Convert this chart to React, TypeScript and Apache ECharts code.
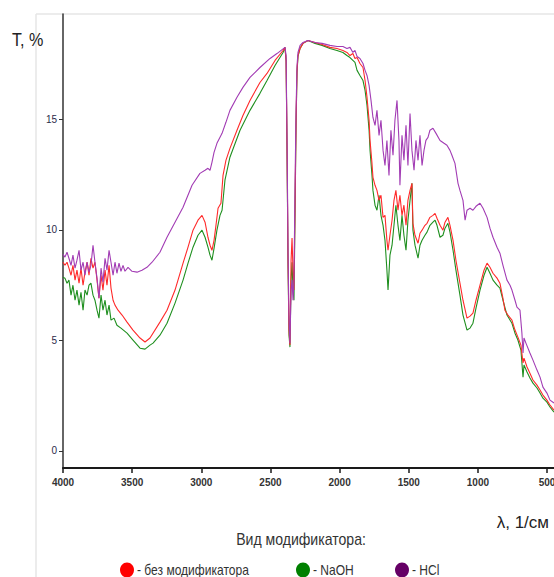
import React, { useEffect, useRef } from "react";
import * as echarts from "echarts";

// Wavenumber (1/см) vs transmittance T, %
const xTicks = [4000, 3500, 3000, 2500, 2000, 1500, 1000, 500];
const yTicks = [0, 5, 10, 15];

const seriesNames = ["без модификатора", "NaOH", "HCl"];
const lineColors = ["#ff2a2a", "#1f8f1f", "#a23cb4"];
const legendColors = ["#ff0000", "#008000", "#660066"];

const noModifier: [number, number][] = [
  [4000, 8.54], [3986, 8.40], [3971, 8.54], [3957, 8.27], [3942, 7.95], [3928, 8.40], [3913, 7.73], [3899, 8.18],
  [3884, 7.59], [3870, 8.27], [3855, 7.50], [3841, 8.09], [3826, 8.54], [3812, 7.95], [3798, 8.72], [3783, 8.27],
  [3769, 8.54], [3754, 7.73], [3740, 6.91], [3725, 7.95], [3711, 7.28], [3696, 8.18], [3682, 7.50], [3667, 8.40],
  [3653, 7.37], [3638, 6.82], [3624, 6.60], [3602, 6.37], [3573, 6.15], [3537, 5.83], [3494, 5.47], [3443, 5.11],
  [3407, 4.93], [3371, 5.11], [3299, 5.83], [3248, 6.37], [3190, 7.28], [3132, 8.50], [3096, 9.22], [3060, 9.99],
  [3024, 10.44], [2995, 10.66], [2973, 10.35], [2952, 9.67], [2937, 9.31], [2923, 9.08], [2908, 9.53], [2894, 10.21],
  [2879, 10.98], [2858, 11.21], [2843, 12.47], [2822, 13.15], [2793, 13.69], [2742, 14.51], [2699, 15.18], [2648, 15.86],
  [2576, 16.67], [2525, 17.08], [2467, 17.67], [2409, 18.12], [2395, 18.26], [2387, 17.67], [2380, 13.60], [2373, 8.63],
  [2366, 5.47], [2359, 4.79], [2351, 8.63], [2344, 9.63], [2337, 8.18], [2330, 7.28], [2322, 11.34], [2315, 14.96],
  [2308, 17.22], [2301, 17.89], [2286, 18.21], [2265, 18.44], [2229, 18.57], [2178, 18.48], [2127, 18.39], [2070, 18.26],
  [2019, 18.21], [1976, 18.12], [1947, 18.03], [1925, 17.89], [1904, 17.98], [1889, 17.76], [1874, 17.80], [1853, 17.53],
  [1831, 17.35], [1816, 16.76], [1802, 16.00], [1787, 14.96], [1780, 14.05], [1766, 13.01], [1759, 12.38], [1744, 12.02],
  [1730, 11.79], [1715, 11.34], [1701, 11.57], [1686, 10.57], [1672, 10.66], [1658, 9.53], [1650, 9.08], [1636, 9.76],
  [1621, 10.44], [1607, 11.34], [1593, 11.79], [1578, 10.89], [1564, 11.57], [1549, 10.66], [1535, 11.12], [1520, 10.21],
  [1506, 11.34], [1491, 11.79], [1477, 12.11], [1470, 10.30], [1455, 9.76], [1433, 9.40], [1419, 9.85], [1404, 9.99],
  [1383, 10.21], [1368, 10.30], [1347, 10.57], [1325, 10.66], [1310, 10.75], [1296, 10.53], [1274, 10.21], [1253, 9.99],
  [1238, 10.35], [1217, 10.57], [1202, 10.21], [1180, 9.53], [1159, 8.63], [1130, 7.59], [1108, 6.82], [1079, 6.01],
  [1057, 6.10], [1036, 6.24], [1014, 6.82], [985, 7.50], [956, 8.18], [934, 8.50], [913, 8.31], [891, 8.04],
  [862, 7.82], [841, 7.59], [819, 6.91], [805, 6.37], [783, 6.15], [754, 5.92], [732, 5.47], [711, 5.15],
  [689, 4.79], [674, 3.98], [667, 4.20], [645, 3.80], [624, 3.52], [602, 3.21], [573, 2.98], [551, 2.76],
  [530, 2.53], [501, 2.30], [479, 2.08], [450, 1.85],
];

const naoh: [number, number][] = [
  [4000, 7.86], [3986, 7.82], [3971, 7.59], [3957, 7.73], [3942, 7.05], [3928, 7.50], [3913, 6.82], [3899, 7.28],
  [3884, 6.60], [3870, 7.18], [3855, 6.37], [3841, 7.28], [3826, 7.05], [3812, 7.50], [3798, 7.59], [3783, 7.05],
  [3769, 6.82], [3754, 6.37], [3740, 6.01], [3725, 7.05], [3711, 6.37], [3696, 6.82], [3682, 6.15], [3667, 6.60],
  [3653, 5.92], [3631, 6.01], [3610, 5.69], [3581, 5.56], [3537, 5.33], [3494, 5.02], [3443, 4.65], [3407, 4.61],
  [3371, 4.79], [3349, 4.88], [3299, 5.24], [3248, 5.78], [3190, 6.69], [3132, 7.73], [3096, 8.50], [3060, 9.22],
  [3024, 9.76], [2995, 9.99], [2973, 9.67], [2952, 9.22], [2937, 8.86], [2923, 8.63], [2908, 9.17], [2887, 9.99],
  [2865, 10.66], [2850, 10.89], [2829, 12.25], [2793, 13.29], [2720, 14.51], [2648, 15.41], [2576, 16.18], [2525, 16.76],
  [2467, 17.44], [2409, 18.03], [2395, 18.26], [2387, 17.67], [2380, 13.38], [2373, 8.40], [2366, 5.24], [2359, 4.70],
  [2351, 7.73], [2344, 8.54], [2337, 7.28], [2330, 6.82], [2322, 10.89], [2315, 14.73], [2308, 17.13], [2301, 17.85],
  [2286, 18.21], [2265, 18.44], [2229, 18.57], [2178, 18.44], [2127, 18.35], [2070, 18.21], [2019, 18.12], [1976, 18.03],
  [1947, 17.89], [1925, 17.80], [1889, 17.58], [1874, 17.22], [1853, 16.99], [1831, 16.76], [1816, 16.31], [1802, 15.63],
  [1787, 14.51], [1780, 13.60], [1766, 12.47], [1759, 11.79], [1744, 11.12], [1730, 10.89], [1715, 11.57], [1701, 10.66],
  [1686, 10.21], [1672, 9.53], [1658, 8.18], [1650, 7.28], [1636, 8.86], [1621, 9.31], [1607, 10.21], [1593, 11.12],
  [1578, 10.21], [1564, 9.53], [1549, 10.66], [1535, 9.76], [1520, 9.08], [1506, 10.44], [1491, 11.34], [1477, 12.11],
  [1470, 9.99], [1455, 9.31], [1433, 8.72], [1419, 9.31], [1404, 9.53], [1383, 9.76], [1368, 9.90], [1347, 10.21],
  [1325, 10.35], [1310, 10.44], [1296, 10.21], [1274, 9.67], [1253, 9.76], [1238, 10.08], [1217, 10.30], [1202, 9.90],
  [1180, 9.08], [1159, 8.18], [1130, 7.05], [1108, 6.15], [1079, 5.47], [1057, 5.56], [1036, 5.78], [1014, 6.46],
  [985, 7.28], [956, 7.95], [934, 8.31], [913, 8.04], [891, 7.73], [862, 7.50], [841, 7.37], [819, 6.82],
  [790, 6.15], [754, 5.78], [732, 5.33], [711, 5.02], [689, 4.56], [674, 3.34], [667, 3.89], [645, 3.57],
  [624, 3.30], [602, 3.07], [573, 2.85], [551, 2.62], [530, 2.39], [501, 2.21], [479, 1.99], [450, 1.76],
];

const hcl: [number, number][] = [
  [4000, 8.90], [3986, 8.77], [3971, 8.99], [3957, 8.72], [3942, 8.40], [3928, 8.86], [3913, 8.27], [3899, 8.63],
  [3884, 9.08], [3870, 8.18], [3855, 8.54], [3841, 7.95], [3826, 8.54], [3812, 8.09], [3798, 8.40], [3783, 9.31],
  [3769, 8.54], [3754, 7.82], [3740, 6.91], [3725, 8.27], [3711, 7.64], [3696, 8.72], [3682, 8.18], [3667, 9.08],
  [3653, 8.54], [3638, 7.95], [3624, 8.54], [3610, 8.04], [3595, 8.50], [3581, 8.13], [3566, 8.40], [3552, 8.13],
  [3530, 8.31], [3501, 8.13], [3465, 8.09], [3429, 8.18], [3393, 8.31], [3356, 8.54], [3299, 8.99], [3248, 9.67],
  [3190, 10.35], [3132, 11.03], [3067, 12.02], [3010, 12.56], [2973, 12.70], [2952, 12.79], [2937, 12.70], [2923, 13.06],
  [2908, 13.51], [2887, 13.92], [2850, 14.37], [2822, 14.87], [2793, 15.41], [2742, 16.00], [2699, 16.45], [2648, 16.90],
  [2576, 17.35], [2503, 17.76], [2453, 17.98], [2395, 18.26], [2387, 17.89], [2380, 14.05], [2373, 9.08], [2366, 5.92],
  [2359, 4.88], [2351, 7.28], [2344, 7.73], [2337, 6.82], [2330, 7.73], [2322, 12.25], [2315, 15.41], [2308, 17.44],
  [2301, 18.03], [2286, 18.35], [2265, 18.48], [2229, 18.57], [2178, 18.48], [2127, 18.44], [2070, 18.35], [2019, 18.30],
  [1976, 18.30], [1947, 18.21], [1925, 18.26], [1904, 18.03], [1889, 18.12], [1874, 17.85], [1853, 17.76], [1831, 17.53],
  [1816, 17.22], [1802, 16.99], [1787, 16.54], [1773, 15.86], [1759, 15.09], [1744, 14.73], [1730, 15.41], [1715, 14.28],
  [1701, 14.96], [1686, 13.60], [1672, 12.92], [1658, 14.05], [1643, 12.47], [1629, 14.51], [1614, 13.38], [1600, 14.96],
  [1585, 15.86], [1571, 14.05], [1564, 12.02], [1549, 14.28], [1535, 13.15], [1520, 14.73], [1506, 12.92], [1491, 15.27],
  [1477, 13.60], [1462, 12.70], [1448, 14.05], [1433, 13.15], [1419, 14.28], [1404, 12.92], [1390, 13.60], [1376, 14.05],
  [1361, 14.19], [1347, 14.51], [1325, 14.60], [1303, 14.37], [1274, 14.05], [1245, 13.92], [1224, 13.83], [1202, 13.60],
  [1188, 13.38], [1166, 13.01], [1144, 12.11], [1130, 11.79], [1108, 11.34], [1093, 10.44], [1079, 10.89], [1057, 10.98],
  [1036, 10.89], [1014, 11.07], [985, 11.21], [963, 10.98], [934, 10.57], [913, 10.08], [891, 9.67], [862, 9.22],
  [841, 8.95], [819, 8.40], [790, 7.73], [768, 7.50], [754, 7.28], [732, 6.82], [718, 6.51], [696, 6.37],
  [682, 5.33], [674, 4.43], [667, 5.11], [653, 4.88], [624, 4.43], [602, 4.11], [573, 3.66], [551, 3.34],
  [530, 2.89], [501, 2.62], [479, 2.30], [450, 2.17],
];

const seriesData = [noModifier, naoh, hcl];
const drawOrder = [1, 0, 2];

const FONT = "'Liberation Sans', Arial, sans-serif";

export default function App() {
  const ref = useRef<HTMLDivElement>(null);

  useEffect(() => {
    if (!ref.current) return;
    const chart = echarts.init(ref.current, null, { renderer: "svg" });

    const legendItems: any[] = [];
    const legendX = [127, 303, 402];
    seriesNames.forEach((name, i) => {
      legendItems.push({
        type: "ellipse",
        shape: { cx: legendX[i], cy: 570, rx: 7, ry: 7.5 },
        style: { fill: legendColors[i] },
        silent: true,
      });
      legendItems.push({
        type: "text",
        x: legendX[i] + 10,
        y: 570,
        style: {
          text: "- " + name,
          font: `14px ${FONT}`,
          fill: "#333",
          textAlign: "left",
          textVerticalAlign: "middle",
        },
        scaleX: 0.86,
        silent: true,
      });
    });

    chart.setOption({
      animation: false,
      backgroundColor: "#fff",
      grid: { left: 63, right: 0, top: 14, bottom: 109, containLabel: false, outerBoundsMode: "none" },
      xAxis: {
        type: "value",
        inverse: true,
        min: 450,
        max: 4000,
        axisLine: { show: true, onZero: false, lineStyle: { color: "#1a1a1a", width: 2 } },
        axisTick: { show: true, customValues: xTicks, length: 5, lineStyle: { color: "#1a1a1a", width: 1.5 } },
        axisLabel: {
          customValues: xTicks,
          formatter: (v: number) => String(v),
          color: "#333",
          fontSize: 10,
          fontWeight: "bold",
          fontFamily: FONT,
          margin: 9,
          hideOverlap: false,
        },
        splitLine: { show: false },
      },
      yAxis: {
        type: "value",
        min: -0.77,
        max: 19.77,
        axisLine: { show: true, onZero: false, lineStyle: { color: "#333", width: 1.5 } },
        axisTick: { show: true, customValues: yTicks, length: 4, lineStyle: { color: "#333" } },
        axisLabel: {
          customValues: yTicks,
          formatter: (v: number) => String(v),
          color: "#2b2b4a",
          fontSize: 10,
          fontFamily: FONT,
          margin: 6,
        },
        splitLine: { show: false },
      },
      graphic: [
        { type: "line", shape: { x1: 36, y1: 14, x2: 554, y2: 14 }, style: { stroke: "#e6e6e6", lineWidth: 1.5 }, z: -1, silent: true },
        { type: "line", shape: { x1: 36, y1: 14, x2: 36, y2: 577 }, style: { stroke: "#e6e6e6", lineWidth: 1.5 }, z: -1, silent: true },
        {
          type: "text",
          x: 12,
          y: 40,
          scaleX: 0.85,
          style: { text: "T, %", font: `19px ${FONT}`, fill: "#222", textAlign: "left", textVerticalAlign: "middle" },
          silent: true,
        },
        {
          type: "text",
          x: 549,
          y: 522,
          style: { text: "λ, 1/см", font: `17px ${FONT}`, fill: "#222", textAlign: "right", textVerticalAlign: "middle" },
          silent: true,
        },
        {
          type: "text",
          x: 301,
          y: 539,
          scaleX: 0.88,
          style: { text: "Вид модификатора:", font: `16px ${FONT}`, fill: "#333", textAlign: "center", textVerticalAlign: "middle" },
          silent: true,
        },
        ...legendItems,
      ],
      series: drawOrder.map((i) => ({
        name: seriesNames[i],
        type: "line",
        data: seriesData[i],
        showSymbol: false,
        symbol: "none",
        lineStyle: { color: lineColors[i], width: 1.1 },
        itemStyle: { color: lineColors[i] },
        silent: true,
      })),
    });

    return () => chart.dispose();
  }, []);

  return (
    <div
      ref={ref}
      style={{ position: "fixed", left: 0, top: 0, width: 554, height: 577, background: "#fff" }}
    />
  );
}
